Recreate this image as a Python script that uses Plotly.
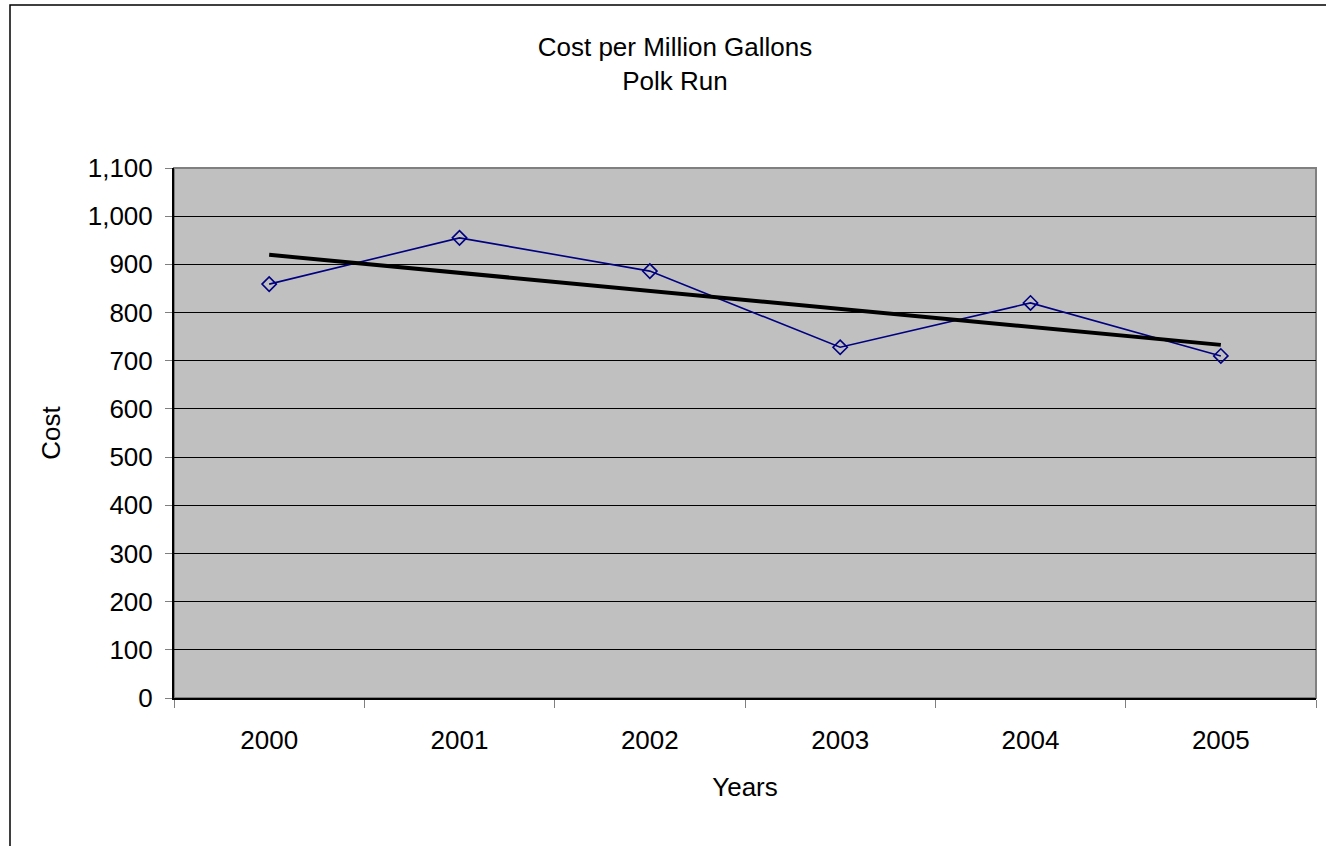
import numpy as np
import plotly.graph_objects as go

# Annual cost per million gallons, Polk Run
years = ["2000", "2001", "2002", "2003", "2004", "2005"]
cost = [859, 955, 886, 728, 820, 710]
y_ticks = [0, 100, 200, 300, 400, 500, 600, 700, 800, 900, 1000, 1100]

# Linear trend fitted over the yearly values
idx = np.arange(len(years))
slope, intercept = np.polyfit(idx, cost, 1)
trend = slope * idx + intercept

FONT = "Liberation Sans, Arial, sans-serif"
W, H = 1326, 846
L, R, T, B = 174, 10, 168, 148
pw, ph = W - L - R, H - T - B


def px_x(p):
    return (p - L) / pw


def px_y(p):
    return (H - B - p) / ph


fig = go.Figure()
fig.add_trace(go.Scatter(
    x=years, y=cost, mode="lines+markers",
    line=dict(color="#000080", width=1.6),
    marker=dict(symbol="diamond-open", size=11, color="#000080",
                line=dict(width=1.6, color="#000080")),
    showlegend=False, cliponaxis=False,
))
fig.add_trace(go.Scatter(
    x=years, y=trend, mode="lines",
    line=dict(color="#000000", width=4),
    showlegend=False,
))

fig.update_layout(
    width=W, height=H,
    margin=dict(l=L, r=R, t=T, b=B, pad=0),
    paper_bgcolor="white",
    plot_bgcolor="#C0C0C0",
    font=dict(family=FONT, size=26, color="black"),
    title=dict(text="Cost per Million Gallons<br>Polk Run",
               x=675 / W, xanchor="center", xref="container",
               y=1 - 56 / H, yanchor="top", yref="container",
               font=dict(family=FONT, size=26, color="black")),
    xaxis=dict(
        type="category", tickson="boundaries",
        ticks="outside", ticklen=8, tickcolor="#808080", tickwidth=1,
        showline=True, linecolor="black", linewidth=2,
        showgrid=False, zeroline=False,
        title=dict(text="Years", standoff=24, font=dict(size=26)),
        tickfont=dict(size=26),
        ticklabelstandoff=18,
        range=[-0.5, 5.5],
    ),
    yaxis=dict(
        range=[0, 1100], tickvals=y_ticks, tickformat=",",
        ticks="outside", ticklen=7, tickcolor="#808080", tickwidth=1,
        showline=True, linecolor="black", linewidth=2,
        showgrid=True, gridcolor="#000000", gridwidth=1,
        zeroline=False,
        title=dict(text="Cost", standoff=20, font=dict(size=26)),
        tickfont=dict(size=26),
        ticklabelstandoff=7,
    ),
    shapes=[
        # plot frame (top and right edges)
        dict(type="rect", xref="paper", yref="paper", x0=0, x1=1, y0=0, y1=1,
             line=dict(color="#808080", width=2), layer="below"),
        # chart frame
        dict(type="rect", xref="paper", yref="paper",
             x0=px_x(10), x1=px_x(1340), y0=px_y(860), y1=px_y(5),
             line=dict(color="black", width=1.5), fillcolor="rgba(0,0,0,0)"),
    ],
)

fig.write_html("out.html")
